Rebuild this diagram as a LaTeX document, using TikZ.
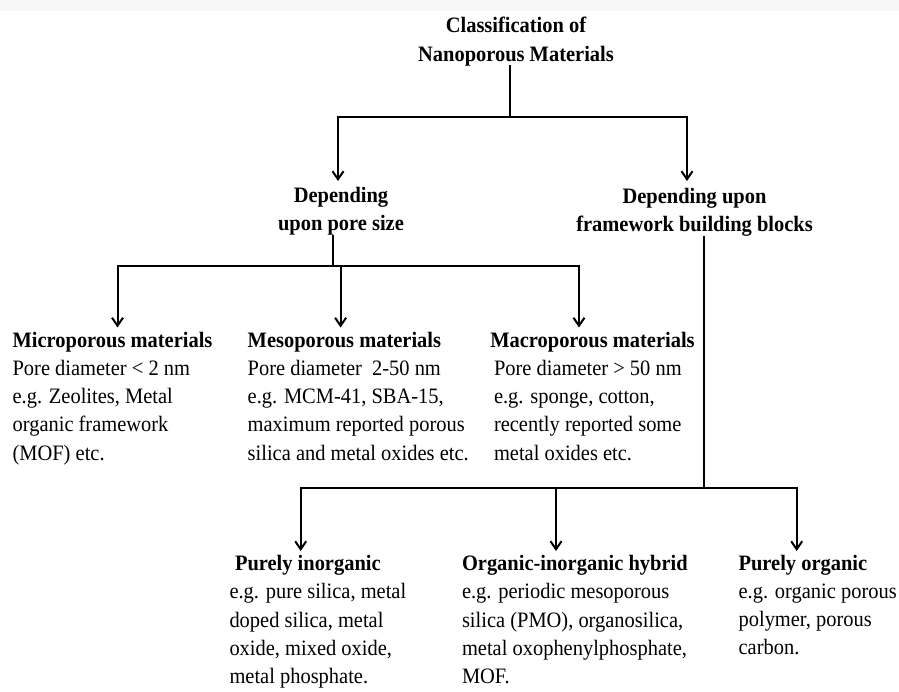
\documentclass[tikz,border=0pt]{standalone}
\usepackage{fontspec}
\setmainfont[FakeStretch=0.93]{Liberation Serif}
\usetikzlibrary{arrows.meta}
\begin{document}
\begin{tikzpicture}[x=1pt,y=-1pt,
  txt/.style={inner sep=0pt,outer sep=0pt,font=\fontsize{22pt}{28.3pt}\selectfont},
  hd/.style={txt,font=\fontsize{22pt}{28.3pt}\selectfont\bfseries},
  ln/.style={line width=2pt,line cap=rect},
  arr/.style={line width=2pt,-{Straight Barb[length=8pt,width=11pt,line width=2pt]}}]
\useasboundingbox (0,0) rectangle (899,692);
\fill[black!3] (0,0) rectangle (899,11);
% titles
\node[hd,anchor=north,align=center] (title) at (516,17.3) {Classification of\\Nanoporous Materials};
\node[hd,anchor=north,align=center] (pore) at (341,187) {Depending\\upon pore size};
\node[hd,anchor=north,align=center] (frame) at (694.5,188) {Depending upon\\framework building blocks};
% level 2 (pore size)
\node[hd,anchor=north west] (micro) at (12.6,332.3) {Microporous materials};
\node[txt,anchor=north west,align=left] (microt) at (12.6,360) {Pore diameter < 2 nm\\e.g. Zeolites, Metal\\organic framework\\(MOF) etc.};
\node[hd,anchor=north west] (meso) at (247.7,332.3) {Mesoporous materials};
\node[txt,anchor=north west,align=left] (mesot) at (247.7,360) {Pore diameter~ 2-50 nm\\e.g. MCM-41, SBA-15,\\maximum reported porous\\silica and metal oxides etc.};
\node[hd,anchor=north west] (macro) at (490.3,332.3) {Macroporous materials};
\node[txt,anchor=north west,align=left] (macrot) at (494,360) {Pore diameter > 50 nm\\e.g. sponge, cotton,\\recently reported some\\metal oxides etc.};
% level 2 (framework)
\node[hd,anchor=north west] (inorg) at (235,555) {Purely inorganic};
\node[txt,anchor=north west,align=left] (inorgt) at (229.5,583.5) {e.g. pure silica, metal\\doped silica, metal\\oxide, mixed oxide,\\metal phosphate.};
\node[hd,anchor=north west] (hyb) at (462,555) {Organic-inorganic hybrid};
\node[txt,anchor=north west,align=left] (hybt) at (462,583.5) {e.g. periodic mesoporous\\silica (PMO), organosilica,\\metal oxophenylphosphate,\\MOF.};
\node[hd,anchor=north west] (org) at (738.6,555) {Purely organic};
\node[txt,anchor=north west,align=left] (orgt) at (738.6,583.5) {e.g. organic porous\\polymer, porous\\carbon.};
% junction coordinates
\coordinate (t0) at (510,66);
\coordinate (b0) at (510,117.3);
\coordinate (b0l) at (338,117.3);
\coordinate (b0r) at (687,117.3);
\coordinate (a0l) at (338,181);
\coordinate (a0r) at (687,181);
\coordinate (p0) at (332.6,236);
\coordinate (b1) at (332.6,265.7);
\coordinate (b1l) at (117.5,265.7);
\coordinate (b1m) at (340.6,265.7);
\coordinate (b1r) at (579,265.7);
\coordinate (a1l) at (117.5,327.5);
\coordinate (a1m) at (340.6,327.5);
\coordinate (a1r) at (579,327.5);
\coordinate (f0) at (704,237);
\coordinate (b2) at (704,487.7);
\coordinate (b2l) at (300.7,487.7);
\coordinate (b2m) at (556,487.7);
\coordinate (b2r) at (796.7,487.7);
\coordinate (a2l) at (300.7,551);
\coordinate (a2m) at (556,551);
\coordinate (a2r) at (796.7,551);
% connectors
\draw[ln] (t0) -- (b0);
\draw[ln] (b0l) -- (b0r);
\draw[arr] (b0l) -- (a0l);
\draw[arr] (b0r) -- (a0r);
\draw[ln] (p0) -- (b1);
\draw[ln] (b1l) -- (b1r);
\draw[arr] (b1l) -- (a1l);
\draw[arr] (b1m) -- (a1m);
\draw[arr] (b1r) -- (a1r);
\draw[ln] (f0) -- (b2);
\draw[ln] (b2l) -- (b2r);
\draw[arr] (b2l) -- (a2l);
\draw[arr] (b2m) -- (a2m);
\draw[arr] (b2r) -- (a2r);
\end{tikzpicture}
\end{document}
